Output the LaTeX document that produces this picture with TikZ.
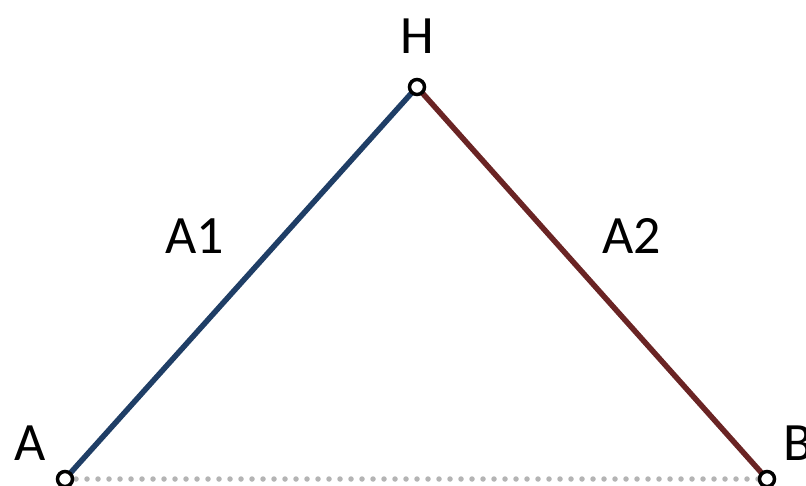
\documentclass[tikz,border=0pt]{standalone}
\usepackage{fontspec}
\setmainfont{Carlito}
\definecolor{lblue}{HTML}{1F3E66}
\definecolor{lred}{HTML}{6A2424}
\definecolor{dotgray}{HTML}{B4B4B4}
\tikzset{
  pt/.style={circle,draw=black,line width=3.5pt,fill=white,minimum size=15pt,inner sep=0pt},
  lbl/.style={font=\fontsize{54}{62}\selectfont,inner sep=0pt},
  edge/.style={line width=5.5pt}
}
\begin{document}
\begin{tikzpicture}[x=1pt,y=-1pt]
\useasboundingbox (0,0) rectangle (806,486);
\coordinate (A) at (65,479);
\coordinate (B) at (767,479);
\coordinate (H) at (417,87);
\draw[dotgray,line width=5.5pt,line cap=round,dash pattern=on 0pt off 11pt] (A) -- (B);
\draw[edge,lblue] (A) -- (H);
\draw[edge,lred] (H) -- (B);
\node[pt] (nA) at (A) {};
\node[pt] (nB) at (B) {};
\node[pt] (nH) at (H) {};
\node[lbl] (tH) at (417,36) {H};
\node[lbl] (tA) at (30,443) {A};
\node[lbl,anchor=west] (tB) at (783,443) {B};
\node[lbl] (tA1) at (195,236) {A1};
\node[lbl] (tA2) at (632,236) {A2};
\end{tikzpicture}
\end{document}
